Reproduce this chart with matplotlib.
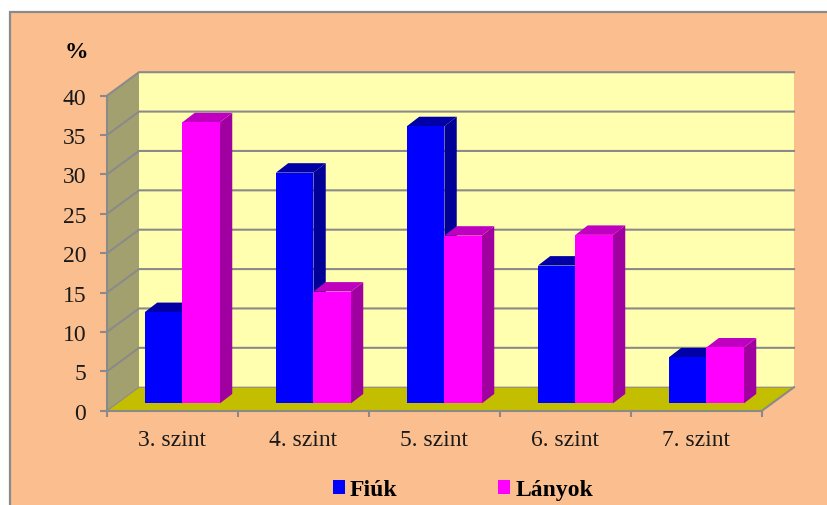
import matplotlib
matplotlib.use("Agg")
import matplotlib.pyplot as plt
from matplotlib.patches import Polygon, Rectangle, Patch

plt.rcParams['font.family'] = ['Liberation Serif', 'DejaVu Serif']

categories = ["3. szint", "4. szint", "5. szint", "6. szint", "7. szint"]
fiuk = [11.6, 29.3, 35.2, 17.5, 5.85]
lanyok = [35.7, 14.2, 21.3, 21.4, 7.1]
y_ticks = [0, 5, 10, 15, 20, 25, 30, 35, 40]

W, H = 828, 506
BG = '#FBBF8F'
WALL = '#FFFFAF'
SIDE = '#A3A070'
FLOOR = '#C4BE00'
GRID = '#8A8A8A'
BLUE = ('#0000FF', '#0000A6', '#000099')
PINK = ('#FF00FF', '#C000C0', '#A000A0')

fig = plt.figure(figsize=(W / 100, H / 100), dpi=100, facecolor='white')
fig.patches.append(Rectangle((9.5 / W, -0.1), 1, 1.1 - 12.5 / H, transform=fig.transFigure,
                             facecolor=BG, edgecolor=GRID, linewidth=1.6, zorder=-5))

ax = fig.add_axes([107 / W, (H - 411.7) / H, 655 / W, 315 / H])
ax.set_xlim(0, 5)
ax.set_ylim(0, 40)
ax.patch.set_visible(False)

DX = 32 / 131      # chart depth in category units
DY = 23.5 / 7.875  # chart depth in value units
nc = len(categories)
top = y_ticks[-1]


def poly(pts, fc, ec='none', lw=0, z=1):
    ax.add_patch(Polygon(pts, closed=True, facecolor=fc, edgecolor=ec, linewidth=lw,
                         zorder=z, clip_on=False))


# walls and floor
poly([(DX, DY), (nc + DX, DY), (nc + DX, top + DY), (DX, top + DY)], WALL, z=1)
poly([(0, 0), (DX, DY), (DX, top + DY), (0, top)], SIDE, z=1)
poly([(0, 0), (nc, 0), (nc + DX, DY), (DX, DY)], FLOOR, z=1)

# gridlines
for v in y_ticks:
    if v > 0:
        ax.plot([0, DX, nc + DX], [v, v + DY, v + DY], color=GRID, lw=1.5, zorder=2,
                clip_on=False, solid_joinstyle='miter')
ax.plot([0, DX, nc + DX], [0, DY, DY], color=GRID, lw=0.8, zorder=2, clip_on=False)
ax.plot([nc, nc + DX], [0, DY], color=GRID, lw=1.5, zorder=2, clip_on=False)

# bars
BW = 0.2863
X0 = 0.2135 + 0.0
OX, OY = 0.076, 0.93
BDX, BDY = 0.094, 1.2


def bar3d(x, v, cols, z):
    x += OX
    poly([(x, OY), (x + BW, OY), (x + BW, OY + v), (x, OY + v)], cols[0], z=z + 0.2)
    poly([(x, OY + v), (x + BW, OY + v), (x + BW + BDX, OY + v + BDY), (x + BDX, OY + v + BDY)],
         cols[1], z=z + 0.1)
    poly([(x + BW, OY), (x + BW + BDX, OY + BDY), (x + BW + BDX, OY + v + BDY), (x + BW, OY + v)],
         cols[2], z=z)


for i in range(nc):
    bar3d(i + X0, fiuk[i], BLUE, 3 + i)
    bar3d(i + X0 + BW, lanyok[i], PINK, 3.5 + i)

# axes
for s in ('top', 'right'):
    ax.spines[s].set_visible(False)
for s in ('left', 'bottom'):
    ax.spines[s].set_color(GRID)
    ax.spines[s].set_linewidth(1.5)
    ax.spines[s].set_zorder(20)
ax.set_yticks(y_ticks)
ax.set_xticks(range(nc + 1))
ax.set_xticklabels([])
ax.set_xticks([i + 0.5 for i in range(nc)], minor=True)
ax.set_xticklabels(categories, minor=True, fontsize=17, color='#1a1a1a')
ax.tick_params(axis='x', which='major', length=4.5, width=1.5, color=GRID)
ax.tick_params(axis='x', which='minor', length=0, pad=13)
ax.tick_params(axis='y', length=5, width=1.5, color=GRID, labelsize=17, labelcolor='#1a1a1a', pad=10)

fig.text(76 / W, 1 - 53 / H, '%', fontsize=17, fontweight='bold', ha='center', va='center')

handles = [Patch(facecolor=BLUE[0], label='Fiúk'), Patch(facecolor=PINK[0], label='Lányok')]
fig.legend(handles=handles, ncol=2, loc='center', bbox_to_anchor=(463 / W, 1 - 491 / H),
           frameon=False, prop={'size': 17, 'weight': 'bold'}, handlelength=0.51, handleheight=0.55,
           handletextpad=0.23, columnspacing=4.26)

fig.savefig('out.png', dpi=100, facecolor='white')
